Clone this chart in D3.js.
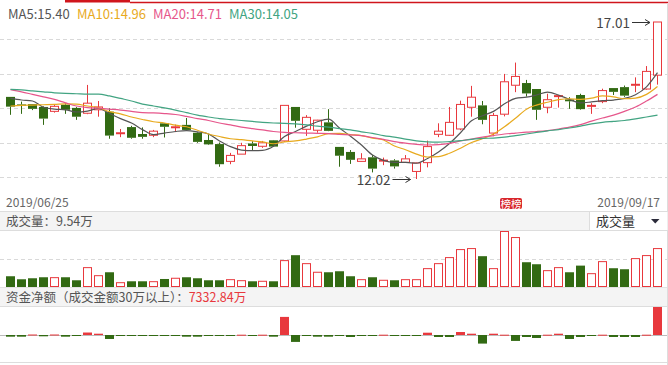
<!DOCTYPE html>
<html>
<head>
<meta charset="utf-8">
<script src="https://cdn.jsdelivr.net/npm/d3@7"></script>
<style>
  body { margin: 0; background: #fff; }
  svg { display: block; font-family: "Noto Sans CJK SC", "Microsoft YaHei", sans-serif; }
</style>
</head>
<body>
<div id="chart"></div>
<script>
// Daily candles, 2019/06/25 - 2019/09/17
const opens  = [14.63,14.39,14.40,14.31,14.17,14.38,14.28,14.11,14.22,14.16,13.47,13.67,13.45,13.41,13.79,13.66,13.74,13.49,13.26,13.13,
                12.58,12.81,13.15,13.06,13.25,13.23,14.31,13.60,13.57,13.82,13.04,12.88,12.58,12.71,12.61,12.61,12.55,12.26,12.54,13.44,
                13.41,13.61,14.30,14.36,13.48,14.08,15.00,15.07,14.88,14.30,14.65,14.55,14.69,14.34,14.48,14.91,14.94,15.02,14.88,15.32];
const highs  = [14.63,14.48,14.40,14.33,14.37,14.43,14.31,15.01,14.50,14.27,13.61,13.71,13.66,13.58,13.80,13.75,13.96,13.51,13.44,13.18,
                12.85,13.17,13.22,13.23,13.26,14.37,14.31,14.05,13.90,14.24,13.04,12.94,12.84,12.78,12.70,12.65,12.78,12.54,13.24,13.79,
                14.31,14.51,14.98,14.50,14.12,15.36,15.72,15.17,14.88,14.73,14.69,14.62,14.73,14.43,14.89,14.91,14.99,15.25,15.61,17.01];
const lows   = [14.06,14.09,14.21,13.74,14.13,14.09,13.90,14.08,14.00,13.30,13.35,13.30,13.30,13.35,13.34,13.51,13.56,13.17,13.10,12.41,
                12.49,12.81,12.93,13.01,13.04,13.20,13.65,13.39,13.49,13.54,12.41,12.50,12.57,12.23,12.46,12.35,12.54,12.02,12.39,13.35,
                13.39,13.57,14.00,13.76,13.38,14.01,14.78,14.64,13.90,14.11,14.29,14.25,14.22,14.09,14.43,14.69,14.63,14.78,14.86,15.02];
const closes = [14.32,14.35,14.25,13.94,14.33,14.22,14.00,14.43,14.31,13.40,13.49,13.33,13.36,13.54,13.68,13.68,13.58,13.20,13.12,12.49,
                12.77,13.08,13.07,13.17,13.05,14.36,13.87,13.98,13.89,13.55,12.76,12.63,12.66,12.35,12.62,12.42,12.66,12.53,13.05,13.54,
                13.82,14.39,14.62,13.90,14.04,15.11,15.28,14.74,14.22,14.54,14.67,14.49,14.24,14.36,14.83,14.79,14.67,15.03,15.44,17.01];

// Moving averages as drawn
const ma5  = [14.58,14.53,14.50,14.30,14.24,14.22,14.15,14.18,14.26,14.10,13.94,13.80,13.59,13.43,13.48,13.53,13.56,13.52,13.45,13.23,
              13.05,12.94,12.92,12.93,13.06,13.37,13.53,13.70,13.84,13.92,13.64,13.38,13.10,12.78,12.61,12.55,12.55,12.52,12.67,12.88,
              13.15,13.49,13.87,14.03,14.17,14.41,14.58,14.62,14.69,14.78,14.69,14.55,14.44,14.47,14.51,14.53,14.58,14.70,14.95,15.40];
const ma10 = [14.34,14.36,14.37,14.38,14.39,14.41,14.40,14.34,14.29,14.16,14.09,13.99,13.91,13.84,13.80,13.73,13.68,13.57,13.45,13.37,
              13.30,13.27,13.23,13.20,13.14,13.20,13.23,13.29,13.36,13.46,13.47,13.43,13.40,13.32,13.26,13.07,12.95,12.81,12.72,12.73,
              12.84,13.00,13.18,13.30,13.45,13.68,13.95,14.24,14.37,14.46,14.54,14.57,14.55,14.59,14.66,14.63,14.57,14.59,14.71,14.96];
const ma20 = [14.86,14.79,14.71,14.63,14.55,14.44,14.34,14.29,14.27,14.24,14.21,14.17,14.13,14.12,14.10,14.07,14.01,13.94,13.88,13.80,
              13.74,13.67,13.62,13.58,13.53,13.50,13.49,13.48,13.47,13.46,13.44,13.42,13.40,13.34,13.28,13.21,13.16,13.12,13.10,13.11,
              13.15,13.23,13.29,13.35,13.40,13.45,13.48,13.51,13.53,13.56,13.61,13.67,13.75,13.86,13.96,14.05,14.17,14.31,14.50,14.71];
const ma30 = [14.87,14.85,14.82,14.79,14.76,14.74,14.73,14.72,14.72,14.66,14.58,14.50,14.40,14.34,14.28,14.21,14.13,14.05,13.99,13.94,
              13.91,13.88,13.85,13.82,13.80,13.79,13.77,13.74,13.70,13.67,13.62,13.58,13.52,13.47,13.40,13.35,13.29,13.23,13.20,13.19,
              13.21,13.24,13.28,13.31,13.32,13.35,13.40,13.45,13.50,13.55,13.59,13.64,13.70,13.77,13.82,13.85,13.88,13.93,13.99,14.05];

// Volume (万手) and net fund flow (万元)
const volumes = [2.67,1.92,2.17,2.42,2.32,2.42,1.67,4.81,2.81,3.66,1.07,1.42,1.42,1.32,1.99,2.17,2.42,2.17,1.67,1.67,
                 1.82,1.57,1.42,1.42,1.42,6.55,7.90,5.80,3.66,3.66,3.91,2.67,1.82,2.42,1.67,1.67,1.82,1.82,4.56,5.80,
                 7.30,9.29,9.54,7.65,4.56,13.78,12.28,6.15,5.65,4.06,4.81,3.66,5.31,3.31,6.30,4.66,4.41,7.05,7.80,9.54];
const netFlow = [-440,-440,130,-340,130,-440,-180,650,340,-1040,-180,-180,-180,-180,-180,-180,-440,-440,-180,-180,
                 -180,80,-180,80,-440,4740,-1810,-180,-440,-440,-180,-520,-180,-180,80,-130,-130,-130,600,-520,
                 -520,780,340,-2250,340,80,-1550,-520,-780,80,340,-1040,-520,-130,80,-520,-520,-520,80,7332.84];

const firstDate = "2019/06/25";
const lastDate = "2019/09/17";
const badgeIndex = 45;

const RED = "#e8383d", GREEN = "#326a13";
const maColors = ["#555555", "#e8aa1e", "#e6568b", "#42a482"];

const W = 668, H = 365;
const svg = d3.select("#chart").append("svg").attr("width", W).attr("height", H);

// top tab strip
svg.append("rect").attr("x", 65).attr("y", 0).attr("width", 65).attr("height", 2.5).attr("fill", "#d0151c");
svg.append("line").attr("x1", 130).attr("x2", W).attr("y1", 2.5).attr("y2", 2.5).attr("stroke", "#d0151c").attr("stroke-width", 1.3);
svg.append("line").attr("x1", 667.5).attr("x2", 667.5).attr("y1", 3).attr("y2", H).attr("stroke", "#ddd");

const idx = d3.range(closes.length);
const x = d3.scaleBand().domain(idx).range([4, 664]).padding(0.22);
const left = i => Math.round(x(i));
const bw = Math.round(x.bandwidth());
const cx = i => left(i) + bw / 2;

const y = d3.scaleLinear().domain([d3.min(lows), d3.max(highs)]).range([179, 22]);

// price panel grid
const gridY = d3.range(1, 6).map(k => Math.round(5 + k * 206.4 / 6) + 0.5);
svg.append("g").selectAll("line").data(gridY).join("line")
    .attr("x1", 0).attr("x2", 667).attr("y1", d => d).attr("y2", d => d)
    .attr("stroke", "#d9d9d9").attr("stroke-dasharray", "4,3");

// candles
const up = i => closes[i] >= opens[i];
const candle = svg.append("g").selectAll("g").data(idx).join("g");
candle.append("line")
    .attr("x1", cx).attr("x2", cx)
    .attr("y1", i => y(highs[i]))
    .attr("y2", i => y(Math.max(opens[i], closes[i])))
    .attr("stroke", i => up(i) ? RED : GREEN);
candle.append("line")
    .attr("x1", cx).attr("x2", cx)
    .attr("y1", i => y(Math.min(opens[i], closes[i])))
    .attr("y2", i => y(lows[i]))
    .attr("stroke", i => up(i) ? RED : GREEN);
candle.append("rect")
    .attr("x", i => up(i) ? left(i) + 0.5 : left(i))
    .attr("width", i => up(i) ? bw - 1 : bw)
    .attr("y", i => y(Math.max(opens[i], closes[i])))
    .attr("height", i => Math.max(1, Math.abs(y(opens[i]) - y(closes[i]))))
    .attr("fill", i => up(i) ? "#fff" : GREEN)
    .attr("stroke", i => up(i) ? RED : "none");

// moving averages
const line = d3.line().x((d, i) => cx(i)).y(d => y(d)).curve(d3.curveMonotoneX);
[ma5, ma10, ma20, ma30].forEach((s, k) => {
    svg.append("path").attr("d", line(s)).attr("fill", "none")
        .attr("stroke", maColors[k]).attr("stroke-width", 1.2);
});

// legend
const legend = [["MA5", ma5, 8], ["MA10", ma10, 77], ["MA20", ma20, 153], ["MA30", ma30, 229]];
legend.forEach(([name, s, lx], k) => {
    svg.append("text").attr("x", lx).attr("y", 18.5)
        .attr("font-size", 13).attr("fill", maColors[k])
        .text(`${name}:${s[s.length - 1].toFixed(2)}`);
});

// max / min markers
function marker(tipX, tipY, label) {
    const g = svg.append("g").attr("stroke", "#333").attr("fill", "none");
    const tail = tipX - 18;
    g.append("line").attr("x1", tail).attr("x2", tipX).attr("y1", tipY).attr("y2", tipY);
    g.append("path").attr("d", `M${tipX - 5},${tipY - 3}L${tipX},${tipY}L${tipX - 5},${tipY + 3}`);
    svg.append("text").attr("x", tail - 2).attr("y", tipY + 5)
        .attr("text-anchor", "end").attr("font-size", 13.5).attr("fill", "#444").text(label);
}
const iMax = d3.maxIndex(highs), iMin = d3.minIndex(lows);
marker(left(iMax) - 3, Math.round(y(highs[iMax])) + 0.5, highs[iMax].toFixed(2));
marker(left(iMin) - 1.5, Math.round(y(lows[iMin])) + 0.5, lows[iMin].toFixed(2));

// dates
svg.append("text").attr("x", 6).attr("y", 207).attr("font-size", 12).attr("fill", "#666").text(firstDate);
svg.append("text").attr("x", 660).attr("y", 207).attr("text-anchor", "end")
    .attr("font-size", 12).attr("fill", "#666").text(lastDate);

// badge
const bx = cx(badgeIndex) - 4.5;
svg.append("rect").attr("x", bx).attr("y", 198).attr("width", 22).attr("height", 11).attr("rx", 2).attr("fill", "#d8262c");
svg.append("text").attr("x", bx + 11).attr("y", 207.5).attr("text-anchor", "middle")
    .attr("font-size", 10.5).attr("fill", "#fff").text("榜榜");

// volume header
svg.append("rect").attr("x", 0).attr("y", 211).attr("width", 667).attr("height", 20).attr("fill", "#f4f4f4");
svg.append("line").attr("x1", 0).attr("x2", 667).attr("y1", 211.5).attr("y2", 211.5).attr("stroke", "#ddd");
svg.append("line").attr("x1", 0).attr("x2", 667).attr("y1", 230.5).attr("y2", 230.5).attr("stroke", "#ddd");
svg.append("text").attr("x", 6).attr("y", 226).attr("font-size", 12.5).attr("fill", "#555")
    .text(`成交量：${volumes[volumes.length - 1].toFixed(2)}万`);
svg.append("rect").attr("x", 589.5).attr("y", 212).attr("width", 78).attr("height", 18).attr("fill", "#fff");
svg.append("line").attr("x1", 589.5).attr("x2", 589.5).attr("y1", 212).attr("y2", 230).attr("stroke", "#ddd");
svg.append("text").attr("x", 596).attr("y", 226).attr("font-size", 13).attr("fill", "#333").text("成交量");
svg.append("path").attr("d", "M651,219L659.5,219L655.25,223.5Z").attr("fill", "#2b2b3a");

// volume bars
const vy = d3.scaleLinear().domain([0, d3.max(volumes)]).range([287, 231.5]);
svg.append("line").attr("x1", 0).attr("x2", 667).attr("y1", 259.5).attr("y2", 259.5)
    .attr("stroke", "#d9d9d9").attr("stroke-dasharray", "4,3");
svg.append("g").selectAll("rect").data(idx).join("rect")
    .attr("x", i => up(i) ? left(i) + 0.5 : left(i))
    .attr("width", i => up(i) ? bw - 1 : bw)
    .attr("y", i => vy(volumes[i]))
    .attr("height", i => vy(0) - vy(volumes[i]) - (up(i) ? 0.5 : 0))
    .attr("fill", i => up(i) ? "#fff" : GREEN)
    .attr("stroke", i => up(i) ? RED : "none");

// fund flow header
const netLast = netFlow[netFlow.length - 1];
svg.append("rect").attr("x", 0).attr("y", 287).attr("width", 667).attr("height", 20).attr("fill", "#f4f4f4");
svg.append("line").attr("x1", 0).attr("x2", 667).attr("y1", 287.5).attr("y2", 287.5).attr("stroke", "#e2e2e2");
svg.append("line").attr("x1", 0).attr("x2", 667).attr("y1", 306.5).attr("y2", 306.5).attr("stroke", "#ddd");
const ft = svg.append("text").attr("x", 6).attr("y", 302).attr("font-size", 12.5).attr("fill", "#555");
ft.append("tspan").text("资金净额（成交金额30万以上）：");
ft.append("tspan").attr("fill", RED).text(`${netLast.toFixed(2)}万`);

// fund flow bars
const maxAbs = d3.max(netFlow, d => Math.abs(d));
const fy = d3.scaleLinear().domain([-maxAbs, maxAbs]).range([363, 307]);
svg.append("line").attr("x1", 0).attr("x2", 667).attr("y1", 335.5).attr("y2", 335.5).attr("stroke", "#bbb");
svg.append("g").selectAll("rect").data(idx).join("rect")
    .attr("x", i => left(i))
    .attr("width", bw)
    .attr("y", i => netFlow[i] >= 0 ? fy(netFlow[i]) : fy(0))
    .attr("height", i => Math.max(1, Math.abs(fy(netFlow[i]) - fy(0))))
    .attr("fill", i => netFlow[i] >= 0 ? RED : GREEN);
svg.append("line").attr("x1", 0).attr("x2", 667).attr("y1", 362.5).attr("y2", 362.5).attr("stroke", "#ddd");
</script>
</body>
</html>
